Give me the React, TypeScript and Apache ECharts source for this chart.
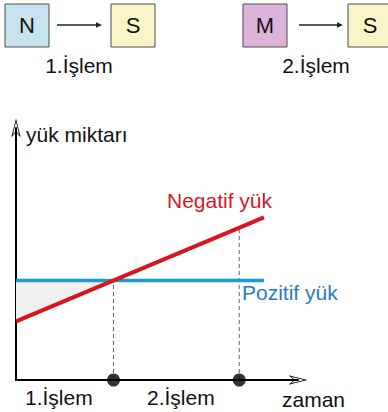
import { useEffect, useRef } from "react";
import * as echarts from "echarts";

// Process names and where each process ends on the time axis
const processNames = ["1.İşlem", "2.İşlem"];
const processEnds = [4.15, 9.5];
// Height reached by the dashed guide above each process end
const guideTops = [3.95, 6.05];

// Charge amounts over time
const seriesNames = ["Negatif yük", "Pozitif yük"];
const negativeCharge = [
  [0, 2.33],
  [10.55, 6.45],
];
const positiveCharge = [
  [0, 3.95],
  [10.55, 3.95],
];
// Gap between the two charges before they become equal
const shadedRegion = [
  [0, 3.95],
  [0, 2.33],
  [4.15, 3.95],
];

const axisNames = ["yük miktarı", "zaman"];

// Reactions shown above the chart
const reactions = [
  { from: "N", to: "S", label: "1.İşlem" },
  { from: "M", to: "S", label: "2.İşlem" },
];

const FONT = "'Liberation Sans', Arial, Helvetica, sans-serif";
const ARROW =
  "path://M5 0 L10 20 L5 14 L0 20 Z M5 3.5 L1.6 17.2 L5 12.6 L8.4 17.2 Z";

export default function App() {
  const ref = useRef<HTMLDivElement>(null);

  useEffect(() => {
    if (!ref.current) return;
    const chart = echarts.init(ref.current, undefined, { renderer: "svg" });

    const boxFill: Record<string, string> = {
      N: "#c7e3ef",
      M: "#dab4d9",
      S: "#faf5c9",
    };

    const reactionGraphics: any[] = [];
    const boxX = [
      [5, 111],
      [243, 348],
    ];
    const arrowX = [
      [57, 102],
      [299, 343],
    ];
    const labelX = [79, 316];
    reactions.forEach((r, i) => {
      [r.from, r.to].forEach((letter, j) => {
        const x = boxX[i][j];
        reactionGraphics.push({
          type: "rect",
          shape: { x, y: 4, width: 44, height: 43 },
          style: { fill: boxFill[letter], stroke: "#4d4d4d", lineWidth: 1 },
        });
        reactionGraphics.push({
          type: "text",
          x: x + 22,
          y: 25.5,
          style: {
            text: letter,
            font: `22px ${FONT}`,
            fill: "#111",
            align: "center",
            verticalAlign: "middle",
          },
        });
      });
      const [a0, a1] = arrowX[i];
      reactionGraphics.push({
        type: "line",
        shape: { x1: a0, y1: 25, x2: a1 - 4, y2: 25 },
        style: { stroke: "#222", lineWidth: 1.3 },
      });
      reactionGraphics.push({
        type: "polygon",
        shape: {
          points: [
            [a1, 25],
            [a1 - 6, 22.2],
            [a1 - 6, 27.8],
          ],
        },
        style: { fill: "#222" },
      });
      reactionGraphics.push({
        type: "text",
        x: labelX[i],
        y: 65,
        style: {
          text: r.label,
          font: `21px ${FONT}`,
          fill: "#111",
          align: "center",
          verticalAlign: "middle",
        },
      });
    });

    const textEl = (
      text: string,
      x: number,
      y: number,
      fill: string,
      size = 21
    ) => ({
      type: "text",
      x,
      y,
      style: {
        text,
        font: `${size}px ${FONT}`,
        fill,
        align: "left",
        verticalAlign: "middle",
      },
    });

    const processLabelX = [25, 147];

    chart.setOption({
      animation: false,
      grid: { left: 16, top: 128, width: 282, height: 252 },
      xAxis: {
        type: "value",
        min: 0,
        max: 12,
        axisLine: {
          show: true,
          symbol: ["none", ARROW],
          symbolSize: [10, 19],
          lineStyle: { color: "#000", width: 2 },
        },
        axisTick: { show: false },
        axisLabel: { show: false },
        splitLine: { show: false },
      },
      yAxis: {
        type: "value",
        min: 0,
        max: 10,
        axisLine: {
          show: true,
          symbol: ["none", ARROW],
          symbolSize: [10, 19],
          lineStyle: { color: "#000", width: 2 },
        },
        axisTick: { show: false },
        axisLabel: { show: false },
        splitLine: { show: false },
      },
      series: [
        {
          type: "custom",
          z: 1,
          silent: true,
          data: shadedRegion,
          encode: { x: 0, y: 1 },
          renderItem: (params: any, api: any) => {
            if (params.dataIndex !== 0) return { type: "group", children: [] };
            return {
              type: "polygon",
              shape: { points: shadedRegion.map((p) => api.coord(p)) },
              style: { fill: "#f0f0f0" },
            };
          },
        },
        ...processEnds.map((x, i) => ({
          type: "line",
          z: 2,
          symbol: "none",
          silent: true,
          data: [
            [x, 0],
            [x, guideTops[i]],
          ],
          lineStyle: { color: "#666", width: 1, type: [4, 3] },
        })),
        {
          name: seriesNames[1],
          type: "line",
          z: 3,
          symbol: "none",
          data: positiveCharge,
          lineStyle: { color: "#1b9ad8", width: 3.5 },
        },
        {
          name: seriesNames[0],
          type: "line",
          z: 4,
          symbol: "none",
          data: negativeCharge,
          lineStyle: { color: "#d8141f", width: 4 },
        },
        {
          type: "scatter",
          z: 5,
          clip: false,
          symbol: "circle",
          symbolSize: 13,
          data: processEnds.map((x) => [x, 0]),
          itemStyle: { color: "#000" },
        },
      ],
      graphic: [
        ...reactionGraphics,
        textEl(axisNames[0], 26, 134, "#111"),
        textEl(axisNames[1], 282, 399, "#111"),
        textEl(seriesNames[0], 167, 200, "#d41a24"),
        textEl(seriesNames[1], 242, 292, "#2a7bbd"),
        ...processNames.map((name, i) =>
          textEl(name, processLabelX[i], 397, "#111")
        ),
      ],
    });

    return () => chart.dispose();
  }, []);

  return (
    <div
      ref={ref}
      style={{ position: "absolute", left: 0, top: 0, width: 388, height: 412 }}
    />
  );
}
